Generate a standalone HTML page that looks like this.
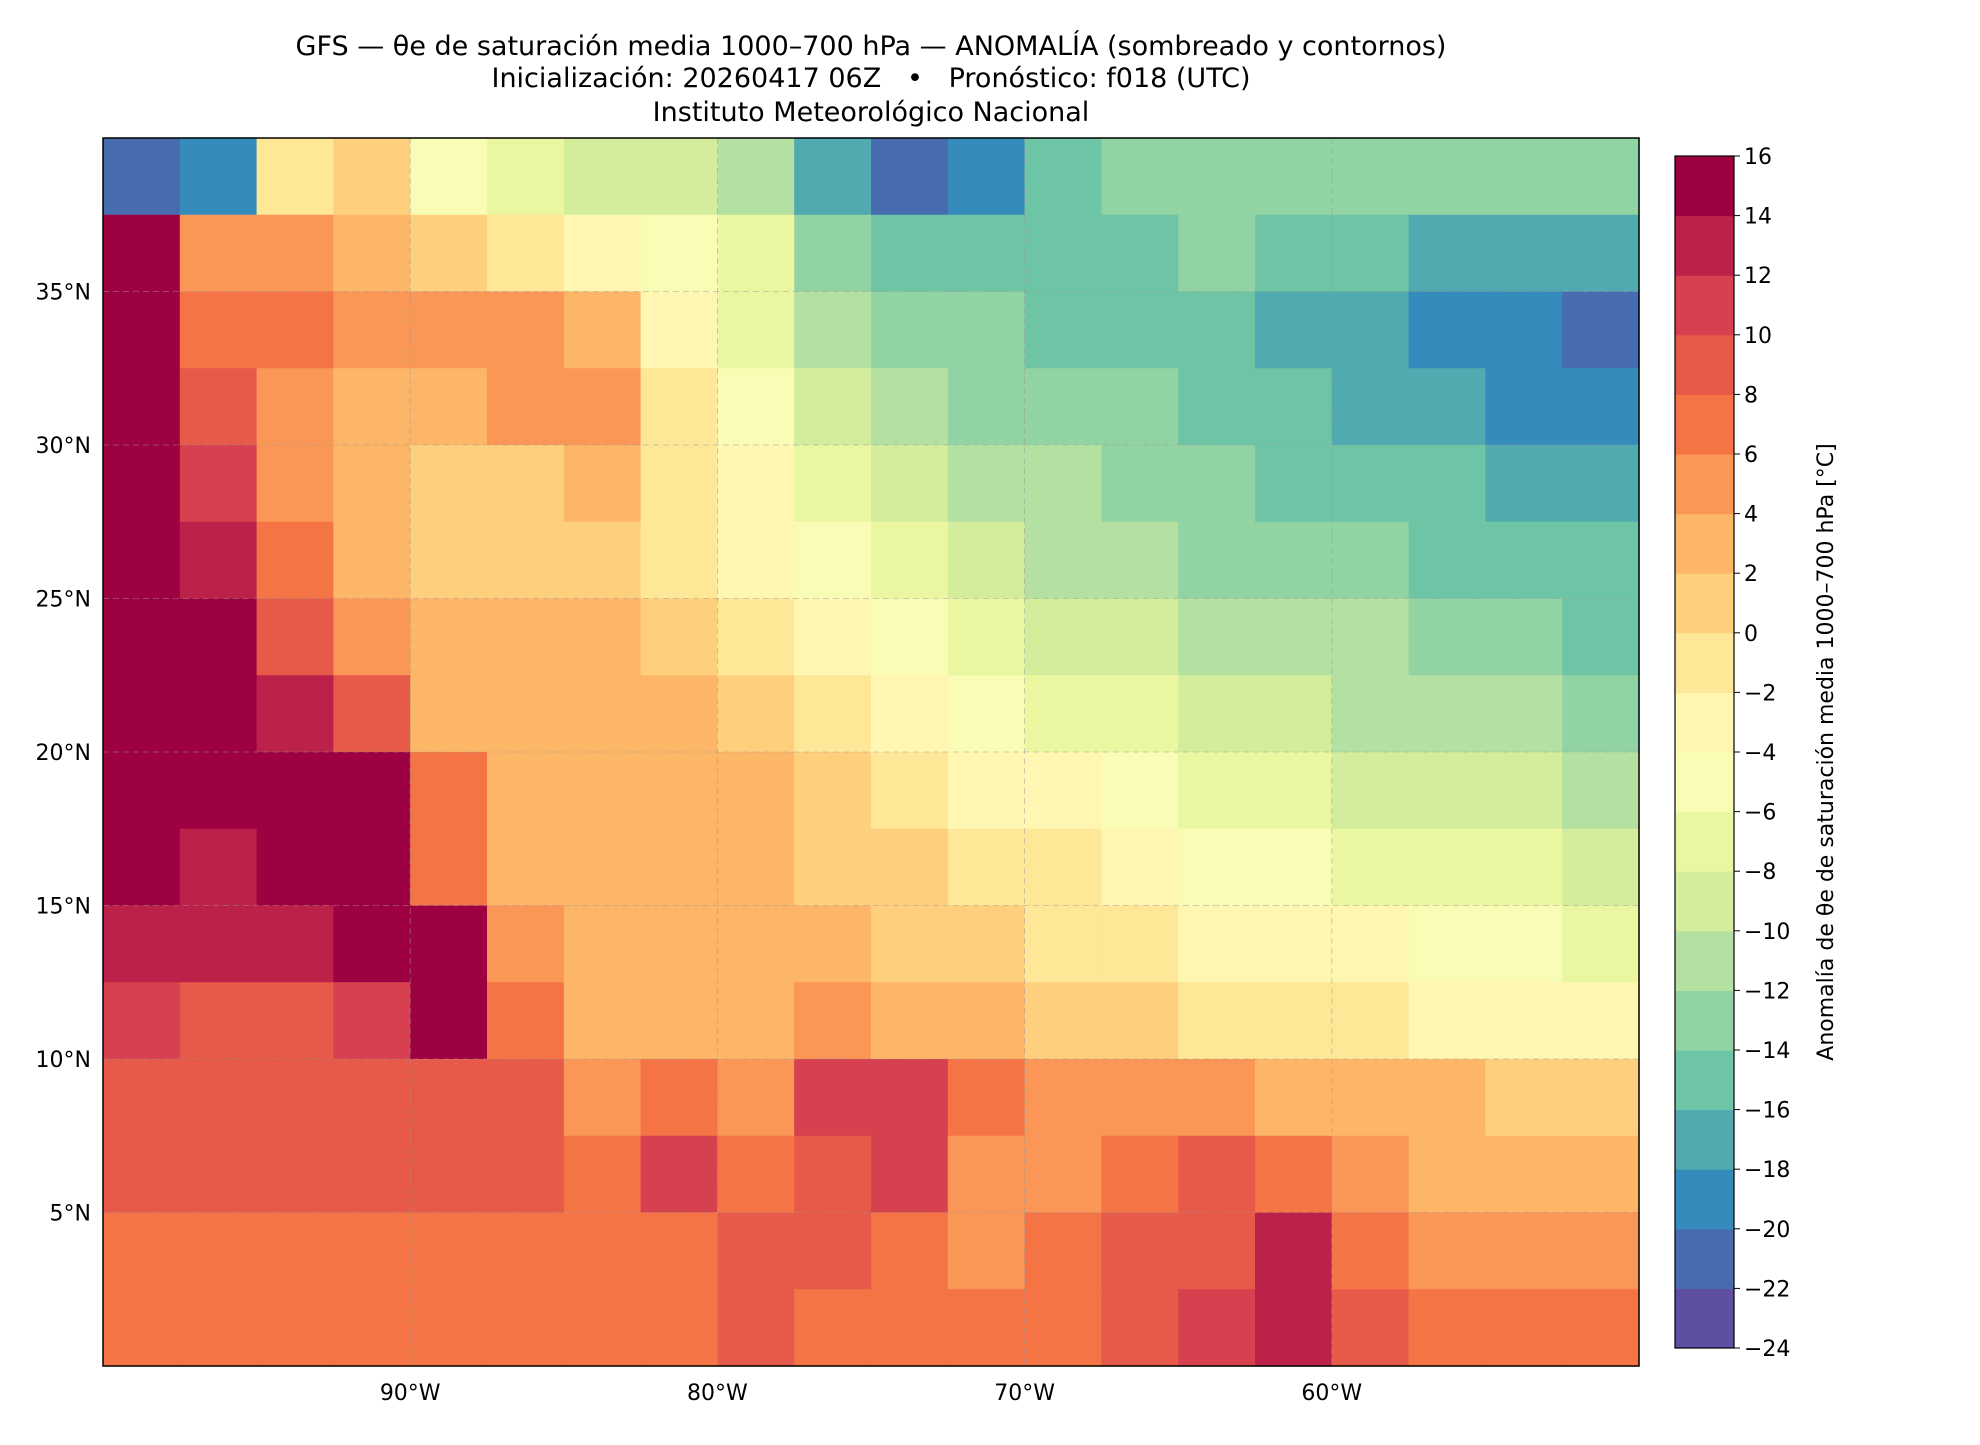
<!DOCTYPE html>
<html><head><meta charset="utf-8">
<style>
html,body{margin:0;padding:0;background:#fff;}
body{width:1980px;height:1440px;position:relative;overflow:hidden;font-family:"Liberation Sans","DejaVu Sans",sans-serif;}
svg text{font-family:"DejaVu Sans","Liberation Sans",sans-serif;white-space:pre;}
</style></head>
<body>
<svg id="chart" width="1980" height="1440" viewBox="0 0 1980 1440" xmlns="http://www.w3.org/2000/svg">
<text x="871" y="55" font-size="27" text-anchor="middle">GFS — θe de saturación media 1000–700 hPa — ANOMALÍA (sombreado y contornos)</text>
<text x="871" y="87" font-size="27" text-anchor="middle" xml:space="preserve">Inicialización: 20260417 06Z   •   Pronóstico: f018 (UTC)</text>
<text x="871" y="121" font-size="27" text-anchor="middle">Instituto Meteorológico Nacional</text>
<g id="map"></g>
<g id="cbar"></g>
<text transform="translate(1833,752) rotate(-90)" font-size="22" text-anchor="middle">Anomalía de θe de saturación media 1000–700 hPa [°C]</text>
</svg>
<script>
const lonMin=-100, lonMax=-50, latMin=0, latMax=40;
const levels=[-24,-22,-20,-18,-16,-14,-12,-10,-8,-6,-4,-2,0,2,4,6,8,10,12,14,16];
const lonTicks=[-90,-80,-70,-60];
const lonTickLabels=["90°W","80°W","70°W","60°W"];
const latTicks=[5,10,15,20,25,30,35];
const latTickLabels=["5°N","10°N","15°N","20°N","25°N","30°N","35°N"];
const gridRows=[
[-22,-20,-2,0,-6,-8,-10,-10,-12,-18,-22,-20,-16,-14,-14,-14,-14,-14,-14,-14],
[16,4,4,2,0,-2,-4,-6,-8,-14,-16,-15,-15,-15,-14,-15,-16,-17,-18,-18],
[16,6,6,4,4,4,2,-4,-8,-12,-14,-14,-15,-15,-16,-17,-18,-19,-20,-21],
[16,8,4,2,2,4,4,-2,-6,-10,-12,-13,-13,-14,-15,-16,-17,-18,-19,-20],
[16,10,4,2,0,0,2,-2,-4,-8,-10,-11,-12,-13,-14,-15,-16,-16,-17,-18],
[16,12,6,2,0,0,0,-2,-4,-6,-8,-10,-11,-12,-13,-14,-14,-15,-15,-16],
[16,14,8,4,2,2,2,0,-2,-4,-6,-8,-9,-10,-11,-12,-12,-13,-14,-15],
[16,16,12,8,2,2,2,2,0,-2,-4,-6,-7,-8,-9,-10,-11,-12,-12,-13],
[16,16,16,16,6,2,2,2,2,0,-2,-3,-4,-6,-7,-8,-9,-10,-10,-11],
[14,12,16,16,6,2,2,2,2,0,0,-2,-2,-4,-5,-6,-7,-8,-8,-9],
[12,12,12,14,16,4,2,2,2,2,0,0,-1,-2,-3,-4,-4,-5,-6,-7],
[10,8,8,10,14,6,2,2,2,4,2,2,0,0,-1,-2,-2,-3,-3,-4],
[8,8,8,8,8,8,4,6,4,10,10,6,4,4,4,2,2,2,0,0],
[8,8,8,8,8,8,6,10,6,8,10,4,4,6,8,6,4,2,2,2],
[6,6,6,6,6,6,6,6,8,8,6,4,6,8,8,12,6,4,4,4],
[6,6,6,6,6,6,6,6,8,6,6,6,6,8,10,12,8,6,6,6]
];
const MX=103, MY=138, MW=1536, MH=1228;
const CBX=1675, CBY=156, CBW=59, CBH=1192;
const NS="http://www.w3.org/2000/svg";
const xs=lon=>MX+(lon-lonMin)/(lonMax-lonMin)*MW;
const ys=lat=>MY+(latMax-lat)/(latMax-latMin)*MH;
const spec=["#9e0142","#d53e4f","#f46d43","#fdae61","#fee08b","#ffffbf","#e6f598","#abdda4","#66c2a5","#3288bd","#5e4fa2"].reverse();
function hex(h){return [1,3,5].map(i=>parseInt(h.substr(i,2),16));}
function cmap(t){t=Math.max(0,Math.min(1,t));const p=t*(spec.length-1);const i=Math.min(Math.floor(p),spec.length-2);const f=p-i;const a=hex(spec[i]),b=hex(spec[i+1]);return "rgb("+a.map((v,k)=>Math.round(v+(b[k]-v)*f)).join(",")+")";}
const nb=levels.length-1;
function binT(k){return k/(nb-1);}
function binColor(v){let k=Math.floor((v-levels[0])/2);k=Math.max(0,Math.min(nb-1,k));return cmap(binT(k));}
function mk(tag,attrs,parent){const e=document.createElementNS(NS,tag);for(const k in attrs)e.setAttribute(k,attrs[k]);parent.appendChild(e);return e;}
const map=document.getElementById('map');
const nr=gridRows.length, nc=gridRows[0].length;
const dLon=(lonMax-lonMin)/nc, dLat=(latMax-latMin)/nr;
gridRows.forEach((row,r)=>row.forEach((v,c)=>{
  const x0=xs(lonMin+c*dLon), x1=xs(lonMin+(c+1)*dLon);
  const y0=ys(latMax-r*dLat), y1=ys(latMax-(r+1)*dLat);
  const e=mk('rect',{x:x0,y:y0,width:x1-x0+0.6,height:y1-y0+0.6,fill:binColor(v)},map);
  
  
}));
lonTicks.forEach((lon,i)=>{
  const g=mk('line',{x1:xs(lon),x2:xs(lon),y1:MY,y2:MY+MH,stroke:"#999",'stroke-dasharray':"6,4",'stroke-width':0.8,opacity:0.6},map);
  
  
  const t=mk('text',{x:xs(lon),y:MY+MH+34,'font-size':22,'text-anchor':'middle'},map);t.textContent=lonTickLabels[i];
  
  
});
latTicks.forEach((lat,i)=>{
  const g=mk('line',{x1:MX,x2:MX+MW,y1:ys(lat),y2:ys(lat),stroke:"#999",'stroke-dasharray':"6,4",'stroke-width':0.8,opacity:0.6},map);
  
  
  const t=mk('text',{x:MX-12,y:ys(lat)+8,'font-size':22,'text-anchor':'end'},map);t.textContent=latTickLabels[i];
  
  
});
const fr=mk('rect',{x:MX,y:MY,width:MW,height:MH,fill:'none',stroke:'#000','stroke-width':1.5},map);


const cb=document.getElementById('cbar');
const segH=CBH/nb;
for(let k=0;k<nb;k++){
  const e=mk('rect',{x:CBX,y:CBY+CBH-(k+1)*segH,width:CBW,height:segH+0.5,fill:cmap(binT(k))},cb);
  
  
}
mk('rect',{x:CBX,y:CBY,width:CBW,height:CBH,fill:'none',stroke:'#000','stroke-width':1.2},cb);
levels.forEach((lv,k)=>{
  const y=CBY+CBH-k*segH;
  mk('line',{x1:CBX+CBW,x2:CBX+CBW+6,y1:y,y2:y,stroke:'#000'},cb);
  const t=mk('text',{x:CBX+CBW+10,y:y+8,'font-size':22},cb);t.textContent=(lv<0?"−"+(-lv):lv);
  
  
});
</script>
</body></html>
